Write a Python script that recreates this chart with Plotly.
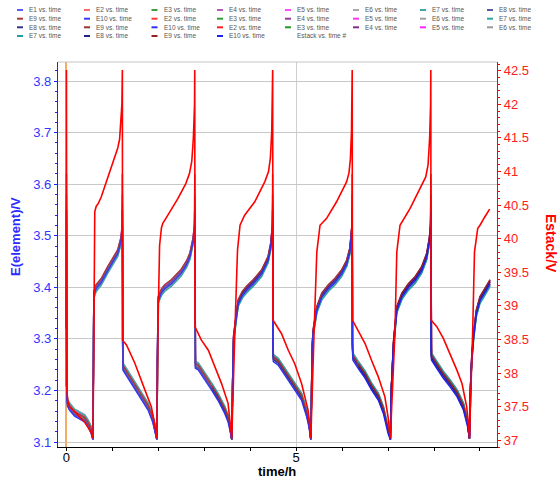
import plotly.graph_objects as go

# ---------------- data ----------------
# base element-voltage curve: time (h), voltage (V), phase
# phase: n = neutral, c = charge, d = discharge, k = end-of-charge spike
elem_t = [0.000, 0.004, 0.012, 0.030, 0.070, 0.180, 0.300, 0.400, 0.470, 0.540, 0.580,
          0.590, 0.600, 0.650, 0.760, 0.900, 1.000, 1.120, 1.190, 1.215, 1.220, 1.225, 1.235,
          1.300, 1.450, 1.560, 1.700, 1.780, 1.880, 1.920, 1.970,
          1.980, 2.000, 2.070, 2.140, 2.290, 2.500, 2.620, 2.690, 2.760, 2.790, 2.795, 2.800, 2.810,
          2.870, 3.010, 3.160, 3.300, 3.450, 3.520, 3.560, 3.600,
          3.620, 3.640, 3.700, 3.740, 3.830, 3.920, 4.070, 4.250, 4.390, 4.450, 4.485, 4.490, 4.495, 4.505,
          4.610, 4.830, 4.970, 5.120, 5.230, 5.280, 5.320,
          5.330, 5.350, 5.370, 5.450, 5.560, 5.700, 5.850, 5.990, 6.100, 6.170, 6.210, 6.220, 6.225, 6.235,
          6.350, 6.500, 6.640, 6.790, 6.900, 7.000, 7.050,
          7.070, 7.120, 7.190, 7.300, 7.440, 7.590, 7.730, 7.840, 7.900, 7.925, 7.930, 7.935, 7.945,
          8.060, 8.200, 8.350, 8.500, 8.640, 8.730, 8.770,
          8.790, 8.820, 8.860, 8.920, 9.000, 9.110, 9.220]
elem_v = [3.320, 3.560, 3.190, 3.175, 3.168, 3.156, 3.150, 3.145, 3.136, 3.123, 3.105,
          3.200, 3.385, 3.398, 3.410, 3.433, 3.447, 3.466, 3.490, 3.510, 3.560, 3.290, 3.245,
          3.236, 3.215, 3.200, 3.180, 3.168, 3.145, 3.130, 3.105,
          3.250, 3.375, 3.390, 3.398, 3.408, 3.428, 3.445, 3.460, 3.490, 3.515, 3.560, 3.290, 3.249,
          3.246, 3.226, 3.207, 3.187, 3.161, 3.145, 3.129, 3.105,
          3.220, 3.300, 3.343, 3.369, 3.385, 3.395, 3.408, 3.427, 3.453, 3.480, 3.515, 3.560, 3.290, 3.262,
          3.255, 3.226, 3.207, 3.187, 3.155, 3.135, 3.105,
          3.220, 3.280, 3.311, 3.356, 3.382, 3.398, 3.411, 3.427, 3.446, 3.470, 3.510, 3.560, 3.290, 3.265,
          3.249, 3.230, 3.207, 3.187, 3.161, 3.123, 3.105,
          3.200, 3.290, 3.356, 3.382, 3.400, 3.414, 3.433, 3.459, 3.490, 3.515, 3.560, 3.290, 3.265,
          3.249, 3.230, 3.213, 3.194, 3.168, 3.136, 3.107,
          3.200, 3.259, 3.304, 3.349, 3.375, 3.391, 3.408]
elem_phase = (["n", "k"] + ["d"] * 8 + ["n"] +
              ["n"] + ["c"] * 8 + ["k", "d", "d"] +
              ["d"] * 7 + ["n"] +
              ["n"] + ["c"] * 9 + ["k", "d", "d"] +
              ["d"] * 7 + ["n"] +
              ["n"] + ["c"] * 10 + ["k", "d", "d"] +
              ["d"] * 6 + ["n"] +
              ["n"] + ["c"] * 10 + ["k", "d", "d"] +
              ["d"] * 6 + ["n"] +
              ["n"] + ["c"] * 9 + ["k", "d", "d"] +
              ["d"] * 6 + ["n"] +
              ["n"] + ["c"] * 6)

# stack voltage (right axis)
stack_t = [0.000, 0.004, 0.012, 0.030, 0.070, 0.220, 0.400, 0.540, 0.580,
           0.600, 0.620, 0.650, 0.700, 0.760, 0.830, 1.020, 1.120, 1.160, 1.185, 1.210, 1.220, 1.225,
           1.310, 1.420, 1.490, 1.710, 1.850, 1.920, 1.970,
           1.990, 2.030, 2.070, 2.100, 2.210, 2.430, 2.600, 2.680, 2.730, 2.765, 2.790, 2.795, 2.800,
           2.940, 3.090, 3.230, 3.380, 3.520, 3.600,
           3.667, 3.725, 3.780, 3.880, 4.100, 4.320, 4.400, 4.440, 4.470, 4.485, 4.490, 4.495,
           4.680, 4.830, 4.970, 5.120, 5.260, 5.300, 5.320,
           5.390, 5.450, 5.520, 5.660, 5.880, 6.100, 6.150, 6.180, 6.205, 6.215, 6.220, 6.225,
           6.350, 6.500, 6.640, 6.790, 6.930, 7.000, 7.050,
           7.150, 7.190, 7.260, 7.480, 7.700, 7.820, 7.870, 7.905, 7.925, 7.930, 7.935,
           8.060, 8.200, 8.350, 8.500, 8.610, 8.710, 8.750, 8.770,
           8.840, 8.880, 8.950, 9.000, 9.100, 9.210]
stack_v = [37.80, 42.51, 37.75, 37.60, 37.50, 37.40, 37.27, 37.12, 37.03,
           38.50, 40.40, 40.48, 40.53, 40.62, 40.76, 41.15, 41.35, 41.48, 41.68, 42.00, 42.51, 38.49,
           38.42, 38.27, 38.15, 37.75, 37.50, 37.25, 37.03,
           38.50, 39.90, 40.16, 40.23, 40.35, 40.60, 40.82, 40.97, 41.15, 41.50, 42.00, 42.51, 38.69,
           38.49, 38.34, 38.09, 37.84, 37.55, 37.03,
           38.60, 39.83, 40.20, 40.35, 40.55, 40.85, 41.00, 41.20, 41.60, 42.00, 42.51, 38.79,
           38.59, 38.34, 38.14, 37.84, 37.45, 37.20, 37.03,
           38.60, 39.80, 40.20, 40.30, 40.55, 40.85, 40.98, 41.18, 41.60, 42.00, 42.51, 38.79,
           38.64, 38.44, 38.19, 37.94, 37.65, 37.35, 37.03,
           38.60, 39.80, 40.20, 40.45, 40.75, 40.92, 41.10, 41.50, 42.00, 42.51, 38.79,
           38.69, 38.52, 38.29, 38.04, 37.84, 37.50, 37.25, 37.03,
           38.60, 39.80, 40.15, 40.20, 40.32, 40.44]

elem_names = ["E1", "E2", "E3", "E4", "E5", "E6", "E7", "E8", "E9", "E10"]
elem_peak = [3.50, 3.56, 3.52, 3.55, 3.53, 3.51, 3.52, 3.58, 3.62, 3.55]
charge_off = [0.000, 0.002, -0.004, 0.006, 0.004, -0.003, -0.006, 0.003, 0.007, -0.001]
discharge_off = [-0.004, 0.000, 0.002, 0.004, 0.006, 0.008, 0.007, -0.002, 0.003, -0.006]

# three recorded blocks of element traces: names, time window, colours
group_names = [elem_names, elem_names[1:], elem_names[1:]]
group_window = [(0.0, 3.16), (3.16, 6.35), (6.35, 9.3)]
group_colors = [
    ["#5a5aff", "#ff6a6a", "#3f9f3f", "#b55ab5", "#ff4dff", "#aaaaaa", "#40a8a8", "#5a5aaa", "#aa3a3a", "#3a3af0"],
    ["#ff3a3a", "#2e9e2e", "#9a3a9a", "#ff33ff", "#a0a0a0", "#2aa5a5", "#33338f", "#a03232", "#3030f0"],
    ["#ff2020", "#229922", "#8a2a8a", "#ff22ff", "#999999", "#1fa0a0", "#22228a", "#952222", "#2020ee"],
]

# ---------------- figure ----------------
L, R, T, B = 58, 497, 62, 447
W, H = 558, 481


def px(x):
    return (x - L) / (R - L)


def py(y):
    return (B - y) / (B - T)


fig = go.Figure()
legend_entries = []

for names, (lo, hi), cols in zip(group_names, group_window, group_colors):
    for name, col in zip(names, cols):
        i = elem_names.index(name)
        ts, vs = [], []
        for t, v, ph in zip(elem_t, elem_v, elem_phase):
            if t < lo or t > hi:
                continue
            if ph == "k":
                v = elem_peak[i]
            elif ph == "c":
                v = v + charge_off[i]
            elif ph == "d":
                v = v + discharge_off[i]
            ts.append(t)
            vs.append(v)
        fig.add_trace(go.Scatter(x=ts, y=vs, mode="lines", name=name + " vs. time",
                                 line=dict(color=col, width=1.5), showlegend=False))
        legend_entries.append((name + " vs. time", col))

fig.add_trace(go.Scatter(x=stack_t, y=stack_v, mode="lines", name="Estack vs. time #",
                         yaxis="y2", line=dict(color="#ff0000", width=1.6), showlegend=False))
legend_entries.append(("Estack vs. time #", None))

# manual compact legend
col_x = [17, 84, 151.5, 217, 285, 353, 420, 487]
row_y = [10, 18.7, 27.3, 36]
shapes = []
annotations = []
for k, (label, col) in enumerate(legend_entries):
    cx = col_x[k % 8]
    ry = row_y[k // 8]
    if col is not None:
        shapes.append(dict(type="line", xref="paper", yref="paper",
                           x0=px(cx), x1=px(cx + 6), y0=py(ry), y1=py(ry),
                           line=dict(color=col, width=2)))
    annotations.append(dict(text=label, xref="paper", yref="paper", x=px(cx + 10), y=py(ry),
                            xanchor="left", yanchor="middle", showarrow=False,
                            font=dict(size=6.5, color="#555555", family="Liberation Sans, Arial")))

# top border
shapes.append(dict(type="line", xref="paper", yref="paper", x0=0, x1=1, y0=1, y1=1,
                   line=dict(color="#c4c4c4", width=1)))

# axis titles
annotations.append(dict(text="<b>E(element)/V</b>", xref="paper", yref="paper",
                        x=px(15), y=py(237), textangle=-90, showarrow=False,
                        xanchor="center", yanchor="middle",
                        font=dict(size=13, color="#2b2bff", family="Liberation Sans, Arial")))
annotations.append(dict(text="<b>Estack/V</b>", xref="paper", yref="paper",
                        x=px(551), y=py(243), textangle=90, showarrow=False,
                        xanchor="center", yanchor="middle",
                        font=dict(size=14, color="#ff0000", family="Liberation Sans, Arial")))
annotations.append(dict(text="<b>time/h</b>", xref="paper", yref="paper",
                        x=px(277), y=py(472), showarrow=False,
                        xanchor="center", yanchor="middle",
                        font=dict(size=13, color="#000000", family="Liberation Sans, Arial")))

fig.update_layout(
    width=W, height=H,
    margin=dict(l=L, r=W - R, t=T, b=H - B, pad=0),
    plot_bgcolor="white", paper_bgcolor="white",
    showlegend=False,
    font=dict(family="Liberation Sans, Arial", size=13),
    shapes=shapes, annotations=annotations,
    xaxis=dict(range=[-0.18, 9.37], tick0=0, dtick=5, showline=True, linecolor="black",
               linewidth=1, ticks="outside", ticklen=3, tickcolor="black",
               tickfont=dict(size=13, color="black"), ticklabelstandoff=-5,
               minor=dict(dtick=1, ticks="outside", ticklen=3, tickcolor="black", showgrid=False),
               showgrid=True, gridcolor="#cfcfcf", gridwidth=1.2,
               zeroline=True, zerolinecolor="#f5aa66", zerolinewidth=2.2),
    yaxis=dict(range=[3.0903, 3.837], tick0=3.1, dtick=0.1, showline=True, linecolor="#2020ff",
               linewidth=1.2, ticks="outside", ticklen=3, tickcolor="#2020ff",
               tickfont=dict(size=13, color="#3333ff"),
               minor=dict(dtick=0.02, ticks="outside", ticklen=2, tickcolor="#2020ff", showgrid=False),
               showgrid=True, gridcolor="#c8c8c8", gridwidth=1.2, zeroline=False),
    yaxis2=dict(range=[36.9, 42.63], tick0=37, dtick=0.5, overlaying="y", side="right",
                anchor="x", showline=True, linecolor="#ff0000", linewidth=1.2,
                ticks="outside", ticklen=3, tickcolor="#ff0000",
                tickfont=dict(size=13, color="#ff2020"),
                minor=dict(dtick=0.1, ticks="outside", ticklen=2, tickcolor="#ff0000", showgrid=False),
                showgrid=False, zeroline=False),
)

fig.write_html("out.html", config={"displayModeBar": False},
               post_script="document.body.style.margin='0px';document.body.style.padding='0px';")
